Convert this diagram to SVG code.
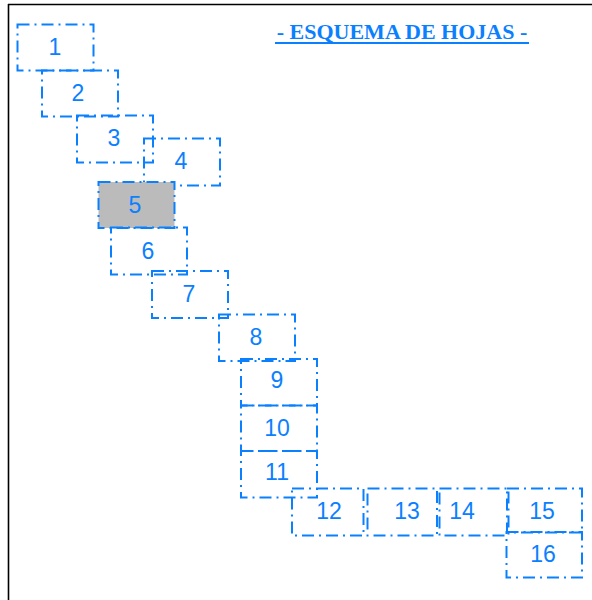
<svg xmlns="http://www.w3.org/2000/svg" width="592" height="600" viewBox="0 0 592 600">
<style>
.sheet rect{fill:none;stroke:#0a80ff;stroke-width:2;stroke-dasharray:12 5 2 5}
.sheet text{font-family:"Liberation Sans",Arial,sans-serif;font-size:23px;fill:#0a80ff;text-anchor:middle}
.title{font-family:"Liberation Serif","Times New Roman",serif;font-size:22px;font-weight:bold;fill:#0a80ff;text-anchor:middle}
</style>
<rect x="0" y="0" width="592" height="600" fill="#ffffff"/>
<g id="frame" stroke="#000" stroke-width="1.6" fill="none">
<line x1="8" y1="4.5" x2="592" y2="4.5"/>
<line x1="8.5" y1="4" x2="8.5" y2="600"/>
</g>
<g id="title">
<text class="title" x="402" y="39">- ESQUEMA DE HOJAS -</text>
<line x1="275" y1="43" x2="529" y2="43" stroke="#0a80ff" stroke-width="2"/>
</g>
<g id="n1" class="sheet"><rect x="17.5" y="24.5" width="76" height="46"/><text x="55" y="55">1</text></g>
<g id="n2" class="sheet"><rect x="42" y="70.5" width="76" height="46"/><text x="78" y="101">2</text></g>
<g id="n3" class="sheet"><rect x="77" y="115.5" width="76" height="47"/><text x="114" y="146">3</text></g>
<g id="n4" class="sheet"><rect x="144" y="138.5" width="76" height="47"/><text x="181" y="169">4</text></g>
<g id="n5" class="sheet"><rect x="98.5" y="182" width="76" height="46" style="fill:#bbbbbb"/><text x="135" y="213">5</text></g>
<g id="n6" class="sheet"><rect x="111" y="227.5" width="76" height="47"/><text x="148" y="259">6</text></g>
<g id="n7" class="sheet"><rect x="152" y="271" width="76" height="47"/><text x="189" y="302">7</text></g>
<g id="n8" class="sheet"><rect x="219" y="314.5" width="76" height="46.5"/><text x="256" y="345">8</text></g>
<g id="n9" class="sheet"><rect x="241" y="359" width="76" height="46.5"/><text x="277" y="388">9</text></g>
<g id="n10" class="sheet"><rect x="241" y="405.5" width="76" height="45.5"/><text x="277" y="436">10</text></g>
<g id="n11" class="sheet"><rect x="241" y="451" width="76" height="46.5"/><text x="277" y="480">11</text></g>
<g id="n12" class="sheet"><rect x="292" y="488.5" width="71.5" height="47"/><text x="329" y="519">12</text></g>
<g id="n13" class="sheet"><rect x="367.5" y="488.5" width="69.5" height="47"/><text x="407" y="519">13</text></g>
<g id="n14" class="sheet"><rect x="439.5" y="488.5" width="69" height="47"/><text x="462" y="519">14</text></g>
<g id="n15" class="sheet"><rect x="507" y="488.5" width="75" height="44"/><text x="542" y="519">15</text></g>
<g id="n16" class="sheet"><rect x="506.5" y="532" width="75.5" height="45.5"/><text x="543" y="562">16</text></g>
<g id="connectors"/>
</svg>
